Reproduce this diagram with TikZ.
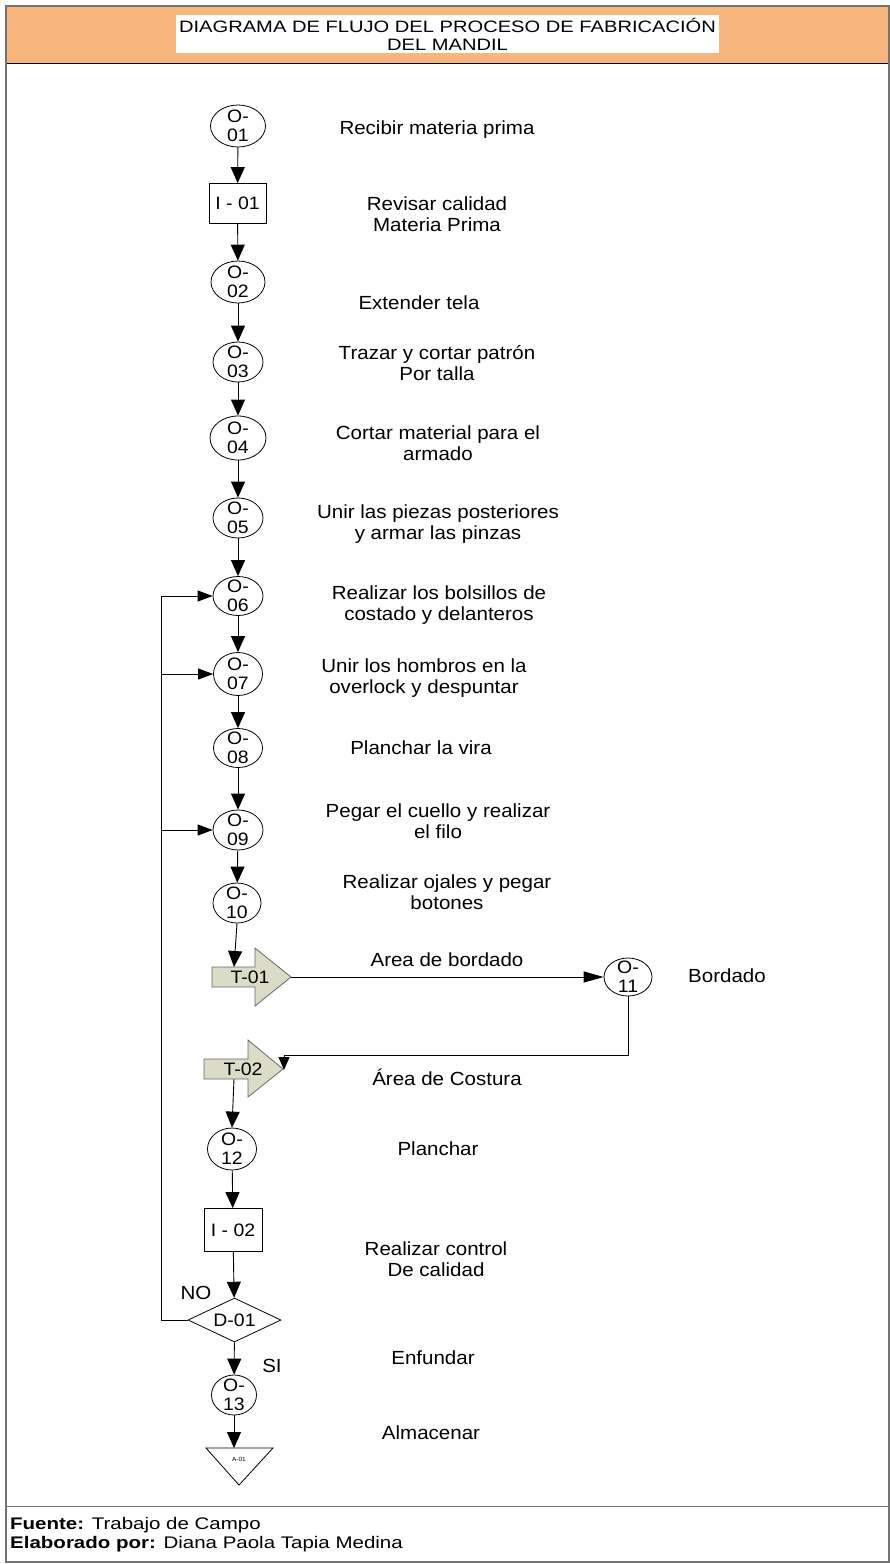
\documentclass[tikz,border=0pt]{standalone}
\usepackage{fontspec}
\setmainfont{Liberation Sans}[FakeStretch=1.08]
\newfontfamily\widefont{Liberation Sans}[FakeStretch=1.22]
\usetikzlibrary{shapes.geometric, arrows.meta, positioning, calc}
\definecolor{cband}{HTML}{F8B67F}
\definecolor{ctrans}{HTML}{DADCC5}
\definecolor{cframe}{gray}{0.45}

\begin{document}
\begin{tikzpicture}[x=1pt, y=-1pt,
    op/.style={draw, ellipse, minimum width=50pt, minimum height=41pt, inner sep=0pt, line width=0.8pt},
    optext/.style={align=center, inner sep=0pt, font=\fontsize{18}{19}\selectfont},
    insp/.style={draw, rectangle, minimum width=57pt, minimum height=40pt, inner sep=0pt, line width=0.8pt, font=\fontsize{18}{19}\selectfont},
    dec/.style={draw, diamond, aspect=2.1, minimum width=93pt, minimum height=44pt, inner sep=0pt, line width=0.8pt, font=\fontsize{18}{19}\selectfont},
    trans/.style={draw=black!60, fill=ctrans, line width=0.8pt},
    desc/.style={align=center, inner sep=0pt, font=\fontsize{19}{21}\selectfont},
    flow/.style={-{Triangle[length=16pt,width=14pt]}, line width=0.9pt},
    back/.style={-{Triangle[length=15pt,width=11pt]}, line width=0.9pt},
    harr/.style={-{Triangle[length=20pt,width=11pt]}, line width=0.9pt},
    sarr/.style={-{Triangle[length=13pt,width=11pt]}, line width=0.9pt}
]
\useasboundingbox (0,0) rectangle (890,1564);

% frame, header and footer
\fill[cband] (6,6) rectangle (889,63);
\fill[white] (176,15) rectangle (719,53);
\node[align=center, inner sep=0pt, font=\widefont\fontsize{16.5}{18}\selectfont] (title) at (447.5,34)
    {DIAGRAMA DE FLUJO DEL PROCESO DE FABRICACIÓN\\DEL MANDIL};
\draw[line width=1pt] (6,63) -- (889,63);
\draw[cframe, line width=1.5pt] (6,6) rectangle (889,1562);
\draw[cframe, line width=1pt] (6,1506) -- (889,1506);
\node[anchor=west, inner sep=0pt, font=\widefont\fontsize{16.8}{19}\selectfont] (fuente) at (10,1525)
    {\textbf{Fuente:} Trabajo de Campo};
\node[anchor=west, inner sep=0pt, font=\widefont\fontsize{16.8}{19}\selectfont] (elab) at (10,1544)
    {\textbf{Elaborado por:} Diana Paola Tapia Medina};

% process column
\node[op, minimum width=55pt, minimum height=42pt] (o01) at (238,126) {};
\node[optext] (o01t) at (o01) {O-\\01};
\node[insp] (i01) at (237.5,203.5) {I - 01};
\node[op, minimum width=54pt, minimum height=42pt] (o02) at (238,282) {};
\node[optext] (o02t) at (o02) {O-\\02};
\node[op, minimum height=40pt] (o03) at (238,362) {};
\node[optext] (o03t) at (o03) {O-\\03};
\node[op, minimum width=56pt, minimum height=44pt] (o04) at (238,438) {};
\node[optext] (o04t) at (o04) {O-\\04};
\node[op, minimum height=40pt] (o05) at (238,518) {};
\node[optext] (o05t) at (o05) {O-\\05};
\node[op, minimum height=39pt] (o06) at (238,596) {};
\node[optext] (o06t) at (o06) {O-\\06};
\node[op, minimum width=49pt, minimum height=43pt] (o07) at (238,674) {};
\node[optext] (o07t) at (o07) {O-\\07};
\node[op, minimum width=49pt, minimum height=39pt] (o08) at (238,748) {};
\node[optext] (o08t) at (o08) {O-\\08};
\node[op, minimum height=40pt] (o09) at (238,830) {};
\node[optext] (o09t) at (o09) {O-\\09};
\node[op, minimum width=48pt, minimum height=40pt] (o10) at (237,903) {};
\node[optext] (o10t) at (o10) {O-\\10};

% transport T-01 and O-11
\draw[trans] (212,967) -- (255,967) -- (255,948) -- (291,977) -- (255,1006) -- (255,987) -- (212,987) -- cycle;
\node[optext] (t01) at (250,977) {T-01};
\coordinate (t01in) at (234,967);
\coordinate (t01tip) at (291,977);
\node[op, minimum width=48pt, minimum height=38pt] (o11) at (628,977) {};
\node[optext] (o11t) at (o11) {O-\\11};

% transport T-02
\draw[trans] (204,1059) -- (248,1059) -- (248,1040) -- (283,1069) -- (248,1097) -- (248,1079) -- (204,1079) -- cycle;
\node[optext] (t02) at (243,1069) {T-02};
\coordinate (t02in) at (284,1070);
\coordinate (t02out) at (234,1079);

\node[op, minimum width=49pt, minimum height=42pt] (o12) at (232,1149) {};
\node[optext] (o12t) at (o12) {O-\\12};
\node[insp, minimum width=58pt, minimum height=43pt] (i02) at (233,1230) {I - 02};
\node[dec] (d01) at (234.5,1320) {D-01};
\node[op, minimum width=45pt, minimum height=40pt] (o13) at (234,1395) {};
\node[optext] (o13t) at (o13) {O-\\13};

% storage A-01
\draw[line width=0.8pt] (206,1448) -- (273,1448) -- (239,1485) -- cycle;
\node[inner sep=0pt, font=\fontsize{6}{7}\selectfont] (a01) at (239,1459) {A-01};
\coordinate (a01top) at (234,1448);

\coordinate (fb) at (161,0);

% descriptions
\node[desc] (d1) at (437,130) {Recibir materia prima};
\node[desc] (d2) at (437,214) {Revisar calidad\\Materia Prima};
\node[desc] (d3) at (419,303) {Extender tela};
\node[desc] (d4) at (437,363) {Trazar y cortar patrón\\Por talla};
\node[desc] (d5) at (438,443) {Cortar material para el\\armado};
\node[desc] (d6) at (438,524) {Unir las piezas posteriores\\y armar las pinzas};
\node[desc] (d7) at (439,605) {Realizar los bolsillos de\\costado y delanteros};
\node[desc] (d8) at (424,678) {Unir los hombros en la\\overlock y despuntar};
\node[desc] (d9) at (421,748) {Planchar la vira};
\node[desc] (d10) at (438,821) {Pegar el cuello y realizar\\el filo};
\node[desc] (d11) at (447,892) {Realizar ojales y pegar\\botones};
\node[desc] (d12) at (447,960) {Area de bordado};
\node[desc] (d13) at (727,976) {Bordado};
\node[desc] (d14) at (447,1077) {Área de Costura};
\node[desc] (d15) at (438,1149) {Planchar};
\node[desc] (d16) at (436,1259) {Realizar control\\De calidad};
\node[desc] (d17) at (433,1358) {Enfundar};
\node[desc] (d18) at (431,1433) {Almacenar};
\node[desc] (no) at (196,1293) {NO};
\node[desc] (si) at (272,1366) {SI};

% connectors
\draw[flow] (o01) -- (i01);
\draw[flow] (i01) -- (o02);
\draw[flow] (o02) -- (o03);
\draw[flow] (o03) -- (o04);
\draw[flow] (o04) -- (o05);
\draw[flow] (o05) -- (o06);
\draw[flow] (o06) -- (o07);
\draw[flow] (o07) -- (o08);
\draw[flow] (o08) -- (o09);
\draw[flow] (o09) -- (o10);
\draw[flow] (o10.south) -- (t01in);
\draw[harr] (t01tip) -- (o11.west);
\draw[sarr] (o11.south) -- ++(0,59) -| (t02in);
\draw[flow] (t02out) -- (o12.north);
\draw[flow] (o12) -- (i02);
\draw[flow] (i02) -- (d01);
\draw[flow] (d01) -- (o13);
\draw[flow] (o13.south) -- (a01top);
\draw[back] (d01.west) -- (d01.west -| fb) |- (o06.west);
\draw[back] (o07.west -| fb) -- (o07.west);
\draw[back] (o09.west -| fb) -- (o09.west);
\end{tikzpicture}
\end{document}
